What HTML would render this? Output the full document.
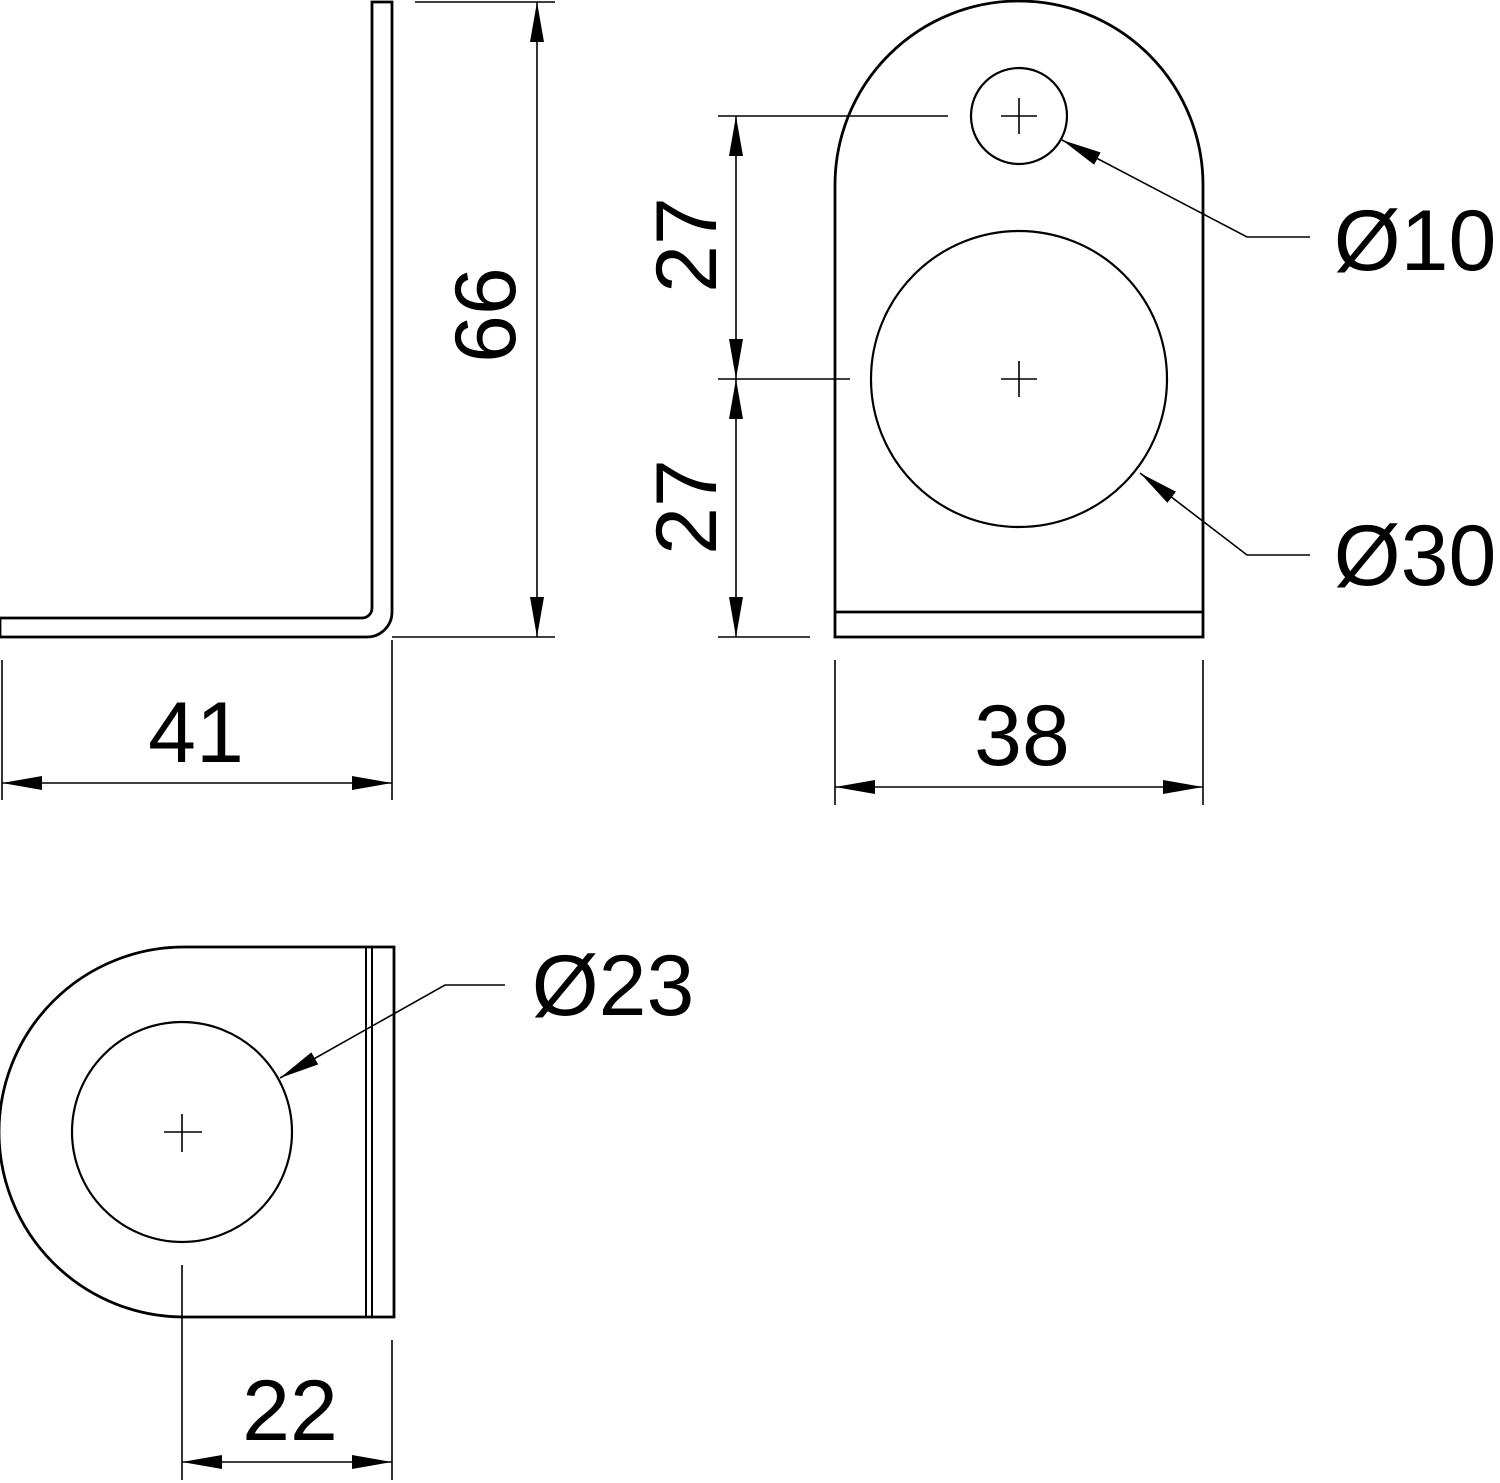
<!DOCTYPE html>
<html><head><style>html,body{margin:0;padding:0;background:#fff}svg{display:block}</style></head>
<body>
<svg width="1500" height="1483" viewBox="0 0 1500 1483" xmlns="http://www.w3.org/2000/svg" font-family="Liberation Sans, sans-serif">
<defs>
<marker id="a" viewBox="0 0 40 14" refX="40" refY="7" markerWidth="40" markerHeight="14" markerUnits="userSpaceOnUse" orient="auto-start-reverse"><path d="M0,0 L40,7 L0,14 Z" fill="#000"/></marker>
</defs>
<g fill="none" stroke="#000">
<!-- side view -->
<path d="M392,2 V612 A25,25 0 0 1 367,637 H0 V618 H362 A10,10 0 0 0 372,608 V2 Z" stroke-width="2.8"/>
<g stroke-width="1.6">
<line x1="415" y1="2" x2="555" y2="2"/>
<line x1="392" y1="637" x2="555" y2="637"/>
<line x1="537" y1="2" x2="537" y2="637" marker-start="url(#a)" marker-end="url(#a)"/>
<line x1="2" y1="660" x2="2" y2="800"/>
<line x1="392" y1="640" x2="392" y2="800"/>
<line x1="2" y1="783" x2="392" y2="783" marker-start="url(#a)" marker-end="url(#a)"/>
</g>
<!-- front view -->
<path d="M835,637 V185 A184,184 0 0 1 1203,185 V637 Z" stroke-width="2.8"/>
<line x1="835" y1="612" x2="1203" y2="612" stroke-width="2.8"/>
<circle cx="1019" cy="116" r="48" stroke-width="2.2"/>
<circle cx="1019" cy="379" r="148" stroke-width="2.2"/>
<g stroke-width="1.6">
<path d="M1001,116 H1037 M1019,98 V134 M1001,379 H1037 M1019,361 V397"/>
<line x1="718" y1="116" x2="948" y2="116"/>
<line x1="718" y1="379" x2="850" y2="379"/>
<line x1="718" y1="637" x2="810" y2="637"/>
<line x1="736" y1="116" x2="736" y2="379" marker-start="url(#a)" marker-end="url(#a)"/>
<line x1="736" y1="379" x2="736" y2="637" marker-start="url(#a)" marker-end="url(#a)"/>
<polyline points="1310,237 1247,237 1062,140" marker-end="url(#a)"/>
<polyline points="1310,555 1247,555 1140,473" marker-end="url(#a)"/>
<line x1="835" y1="660" x2="835" y2="805"/>
<line x1="1203" y1="660" x2="1203" y2="805"/>
<line x1="835" y1="787" x2="1203" y2="787" marker-start="url(#a)" marker-end="url(#a)"/>
</g>
<!-- bottom view -->
<path d="M182,947 H392 V1317 H182 A185,185 0 0 1 182,947 Z" stroke-width="2.8" transform="translate(2,0)"/>
<line x1="366" y1="947" x2="366" y2="1317" stroke-width="2"/>
<line x1="372" y1="947" x2="372" y2="1317" stroke-width="2"/>
<circle cx="182" cy="1132" r="110" stroke-width="2.2"/>
<g stroke-width="1.6">
<path d="M164,1132 H202 M182,1114 V1152"/>
<polyline points="505,985 445,985 280,1078" marker-end="url(#a)"/>
<line x1="182" y1="1265" x2="182" y2="1480"/>
<line x1="392" y1="1340" x2="392" y2="1480"/>
<line x1="182" y1="1462" x2="392" y2="1462" marker-start="url(#a)" marker-end="url(#a)"/>
</g>
</g>
<g font-size="86" fill="#000" text-anchor="middle">
<text x="196" y="762">41</text>
<text x="1022" y="765">38</text>
<text x="290" y="1440">22</text>
<text transform="translate(515,315) rotate(-90)">66</text>
<text transform="translate(716,245) rotate(-90)">27</text>
<text transform="translate(716,507) rotate(-90)">27</text>
<text x="1415" y="270">Ø10</text>
<text x="1415" y="585">Ø30</text>
<text x="613" y="1015">Ø23</text>
</g>
</svg>
</body></html>
